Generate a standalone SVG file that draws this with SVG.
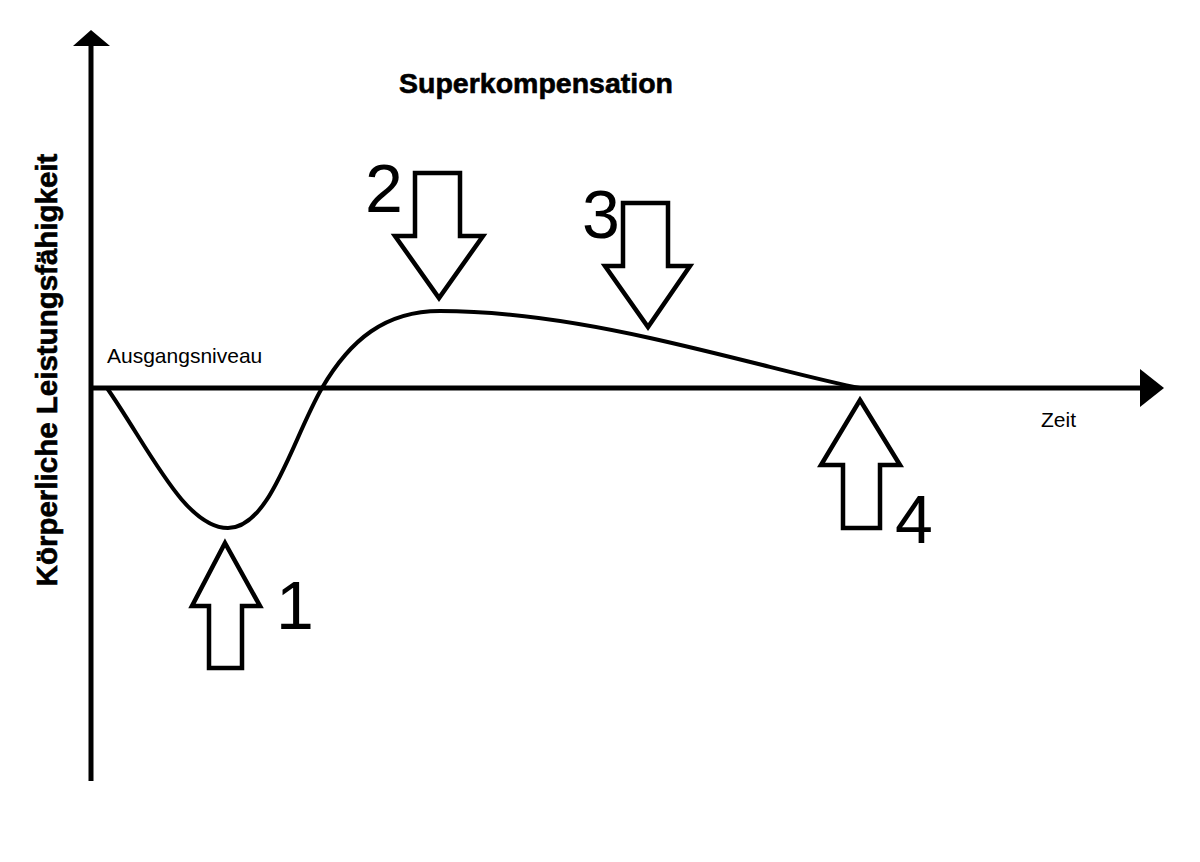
<svg xmlns="http://www.w3.org/2000/svg" width="1200" height="862" viewBox="0 0 1200 862">
<style>
.axis{stroke:#000;stroke-width:5;fill:none}
.curve{stroke:#000;stroke-width:4;fill:none;stroke-linecap:round}
.arr{stroke:#000;stroke-width:4.5;fill:#fff;stroke-linejoin:miter}
.num{font-family:"Liberation Sans",Arial,sans-serif;font-size:68px;fill:#000}
.lbl{font-family:"Liberation Sans",Arial,sans-serif;font-size:21px;fill:#000}
.bold{font-family:"Liberation Sans",Arial,sans-serif;font-weight:bold;fill:#000;stroke:#000;stroke-width:0.6}
</style>
<rect width="1200" height="862" fill="#fff"/>
<g id="axes">
<line class="axis" x1="91" y1="40" x2="91" y2="781"/>
<polygon points="91,30 110,46 73,46" fill="#000"/>
<line class="axis" x1="92" y1="388" x2="1145" y2="388"/>
<polygon points="1164,388 1140,369 1140,407" fill="#000"/>
</g>
<g id="curve">
<path class="curve" d="M107,388 C150,450 185,528 228,528 C270,528 292,440 322,388 C350,340 385,311 440,311 C490,311 560,318 650,338 C740,358 820,381 860,388"/>
</g>
<g id="title"><text class="bold" x="536" y="93" font-size="28.5" text-anchor="middle">Superkompensation</text></g>
<g id="ylabel"><text class="bold" font-size="29.5" text-anchor="middle" transform="translate(57,370) rotate(-90)">Körperliche Leistungsfähigkeit</text></g>
<g id="baseline-label"><text class="lbl" x="107" y="363">Ausgangsniveau</text></g>
<g id="xlabel"><text class="lbl" x="1041" y="427">Zeit</text></g>
<g id="connectors">
<polygon id="arrow1" class="arr" points="225,543 260,606 242,606 242,668 209,668 209,606 192,606"/>
<polygon id="arrow2" class="arr" points="415,173 460,173 460,236 483,236 439,298 395,236 415,236"/>
<polygon id="arrow3" class="arr" points="623,203 668,203 668,266 690,266 648,327 605,266 623,266"/>
<polygon id="arrow4" class="arr" points="860,400 900,465 880,465 880,528 843,528 843,465 821,465"/>
</g>
<g id="labels">
<text class="num" x="276" y="629">1</text>
<text class="num" x="365" y="212">2</text>
<text class="num" x="582" y="238">3</text>
<text class="num" x="895" y="543">4</text>
</g>
</svg>
